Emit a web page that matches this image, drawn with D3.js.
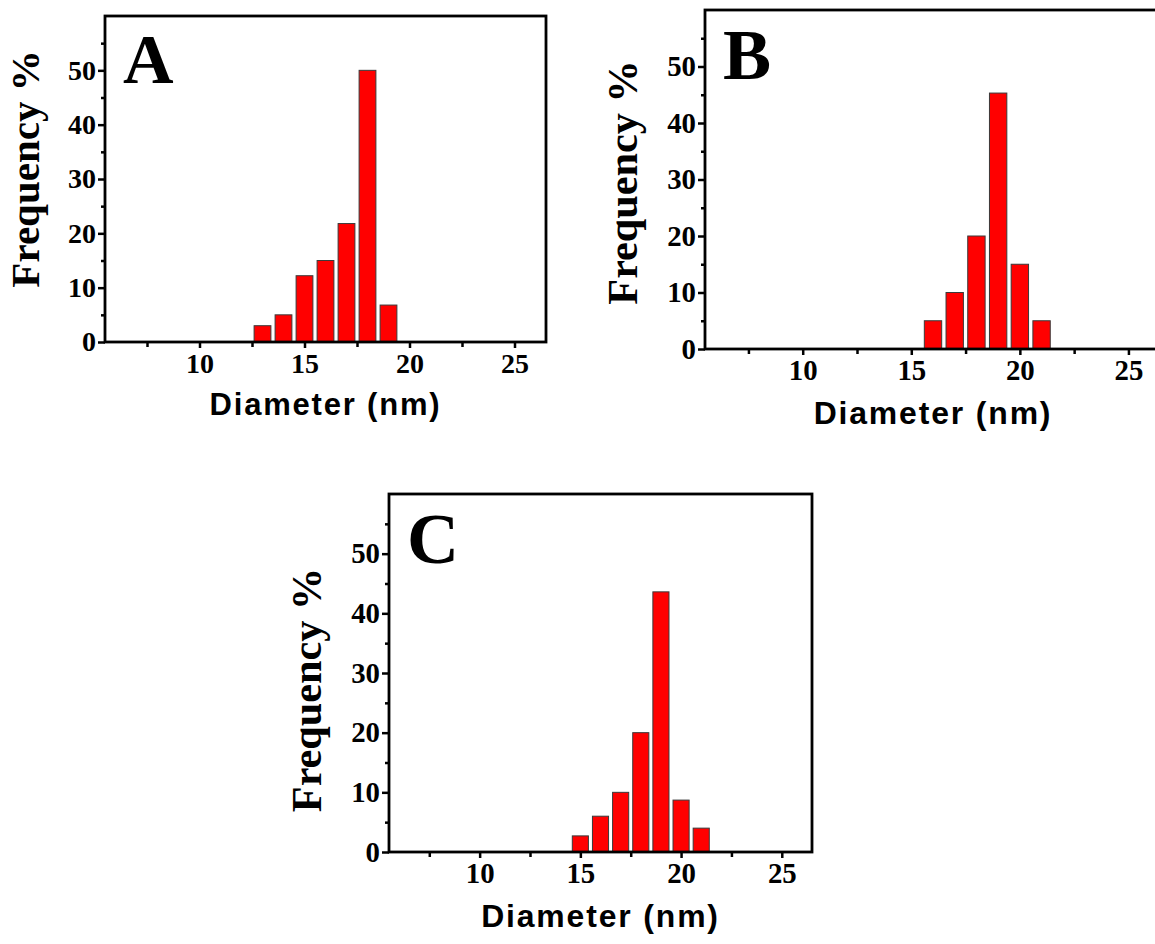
<!DOCTYPE html>
<meta charset="utf-8">
<html>
<head>
    <script src="https://d3js.org/d3.v7.min.js"></script>
    <style>
        body { margin: 0; background: #fff; }
        .tick text { font-family: "Liberation Serif", serif; font-weight: bold; fill: #000; }
        .tick line { stroke: #000; stroke-width: 2.5; }
    </style>
</head>
<body>
    <div id="chart"></div>
    <script>
        // data
        var xTicks = [10, 15, 20, 25];
        var xMinor = [7.5, 12.5, 17.5, 22.5];
        var yTicks = [0, 10, 20, 30, 40, 50];
        var yMinor = [5, 15, 25, 35, 45, 55];

        var diamA = [13, 14, 15, 16, 17, 18, 19];
        var freqA = [3, 5, 12.2, 15, 21.8, 50, 6.8];
        var diamB = [16, 17, 18, 19, 20, 21];
        var freqB = [5, 10, 20, 45.3, 15, 5];
        var diamC = [15, 16, 17, 18, 19, 20, 21];
        var freqC = [2.7, 6, 10, 20, 43.6, 8.7, 4];

        var svg = d3.select("#chart")
            .append("svg")
            .attr("width", 1155)
            .attr("height", 944);

        // one panel per sample; box = plot frame in page pixels
        function panel(letter, diam, freq, box, k, titleShift) {
            var x = d3.scaleLinear().domain([5.5, 26.5]).range([box.x0, box.x1]);
            var y = d3.scaleLinear().domain([0, 60]).range([box.y1, box.y0]);
            var g = svg.append("g");

            // bars
            g.append("g")
                .selectAll("rect")
                .data(diam)
                .enter()
                .append("rect")
                .attr("x", function (d) { return x(d - 0.4); })
                .attr("width", function (d) { return x(d + 0.4) - x(d - 0.4); })
                .attr("y", function (d, i) { return y(freq[i]); })
                .attr("height", function (d, i) { return y(0) - y(freq[i]); })
                .style("fill", "#ff0000")
                .style("stroke", "#3a3a3a")
                .style("stroke-width", 1);

            // x axis
            var ax = g.append("g")
                .attr("transform", "translate(0," + box.y1 + ")")
                .call(d3.axisBottom(x).tickValues(xTicks).tickSize(6).tickPadding(5));
            ax.selectAll("text").style("font-size", (28 * k) + "px");
            g.append("g")
                .attr("transform", "translate(0," + box.y1 + ")")
                .call(d3.axisBottom(x).tickValues(xMinor).tickSize(5).tickFormat(""));

            // y axis
            var ay = g.append("g")
                .attr("transform", "translate(" + box.x0 + ",0)")
                .call(d3.axisLeft(y).tickValues(yTicks).tickSize(7).tickPadding(2));
            ay.selectAll("text").style("font-size", (28 * k) + "px");
            g.append("g")
                .attr("transform", "translate(" + box.x0 + ",0)")
                .call(d3.axisLeft(y).tickValues(yMinor).tickSize(4).tickFormat(""));

            g.selectAll(".domain").remove();

            // frame
            g.append("rect")
                .attr("x", box.x0)
                .attr("y", box.y0)
                .attr("width", box.x1 - box.x0)
                .attr("height", box.y1 - box.y0)
                .style("fill", "none")
                .style("stroke", "#000")
                .style("stroke-width", 2.8);

            // axis titles
            g.append("text")
                .attr("x", (box.x0 + box.x1) / 2)
                .attr("y", box.y1 + 73 * k)
                .attr("text-anchor", "middle")
                .style("font-family", "Liberation Sans, Arial, sans-serif")
                .style("font-weight", "bold")
                .style("font-size", (31 * k) + "px")
                .style("letter-spacing", (1.8 * k) + "px")
                .text("Diameter (nm)");

            g.append("text")
                .attr("transform", "translate(" + (box.x0 - 66 * k) + "," + ((box.y0 + box.y1) / 2 + titleShift) + ") rotate(-90)")
                .attr("text-anchor", "middle")
                .style("font-family", "Liberation Serif, serif")
                .style("font-weight", "bold")
                .style("font-size", (41 * k) + "px")
                .text("Frequency %");

            // panel letter
            g.append("text")
                .attr("x", box.x0 + 18)
                .attr("y", box.y0 + 67 * k)
                .style("font-family", "Liberation Serif, serif")
                .style("font-weight", "bold")
                .style("font-size", (70 * k) + "px")
                .text(letter);
        }

        panel("A", diamA, freqA, { x0: 105, y0: 16, x1: 546, y1: 342 }, 1, -10);
        panel("B", diamB, freqB, { x0: 705, y0: 10, x1: 1161, y1: 349 }, 1.03, 3);
        panel("C", diamC, freqC, { x0: 389, y0: 494, x1: 812, y1: 852 }, 1.03, 17);
    </script>
</body>
</html>
